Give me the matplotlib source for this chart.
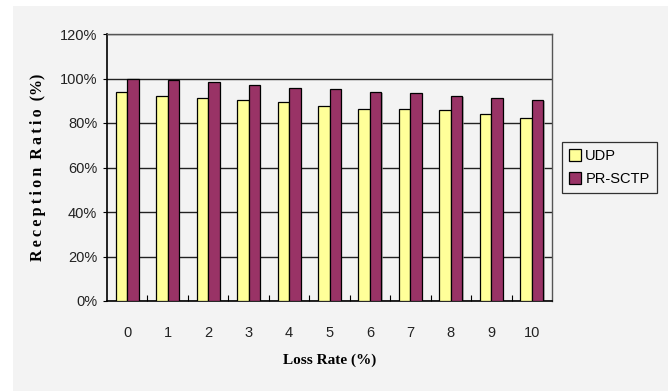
import numpy as np
import matplotlib.pyplot as plt
from matplotlib.patches import Rectangle
from matplotlib.ticker import FuncFormatter

loss_rate = ["0", "1", "2", "3", "4", "5", "6", "7", "8", "9", "10"]
udp = [94.1, 92.3, 91.1, 90.5, 89.3, 87.5, 86.3, 86.3, 85.7, 83.9, 82.1]
pr_sctp = [100.0, 99.5, 98.4, 97.2, 95.9, 95.3, 94.1, 93.5, 92.3, 91.1, 90.5]

bg = "#f3f3f3"
fig = plt.figure(figsize=(6.68, 3.91), dpi=100, facecolor="white")
fig.patches.append(Rectangle((13 / 668, 0), 1, 1 - 6 / 391, transform=fig.transFigure,
                             facecolor=bg, edgecolor="none", zorder=-10))

ax = fig.add_axes([107 / 668, 90 / 391, 445 / 668, 267 / 391])
ax.set_facecolor(bg)

x = np.arange(len(loss_rate))
w = 0.285

# drop shadows behind each bar
for off, vals in ((-w / 2, udp), (w / 2, pr_sctp)):
    ax.bar(x + off + 0.03, np.array(vals) - 0.6, w, bottom=0, color="#9a9a9a",
           edgecolor="none", zorder=2, alpha=0.7)

ax.bar(x - w / 2, udp, w, color="#ffff99", edgecolor="black", linewidth=0.9,
       label="UDP", zorder=3)
ax.bar(x + w / 2, pr_sctp, w, color="#993366", edgecolor="black", linewidth=0.9,
       label="PR-SCTP", zorder=3)

ax.set_xlim(-0.5, len(loss_rate) - 0.5)
ax.set_ylim(0, 120)
ax.set_yticks(np.arange(0, 121, 20))
ax.yaxis.set_major_formatter(FuncFormatter(lambda v, p: f"{int(v)}%"))
ax.set_xticks(x)
ax.set_xticklabels(loss_rate)
ax.set_xticks(np.arange(0.5, len(loss_rate) - 0.5, 1), minor=True)
ax.tick_params(axis="x", which="major", length=0, pad=18, labelsize=10.5, labelcolor="#222222")
ax.tick_params(axis="x", which="minor", direction="in", length=4, width=0.8)
ax.tick_params(axis="y", direction="out", length=3, width=0.8, labelsize=10.5,
               labelcolor="#222222", pad=4)
for lab in ax.get_xticklabels() + ax.get_yticklabels():
    lab.set_fontfamily("Liberation Sans")

ax.grid(axis="y", color="#222222", linewidth=1.0, zorder=0)
ax.set_axisbelow(True)
for side in ("left", "bottom"):
    ax.spines[side].set_color("black")
    ax.spines[side].set_linewidth(1.2)
for side in ("top", "right"):
    ax.spines[side].set_color("#555555")
    ax.spines[side].set_linewidth(1.0)

ax.set_xlabel("Loss Rate (%)", family="Liberation Serif", fontweight="bold",
              fontsize=11, labelpad=10)
ylab = "\u2009".join("Reception") + "  " + "\u2009".join("Ratio") + "  (%)"
ax.set_ylabel(ylab, family="Liberation Serif", fontweight="bold", fontsize=11.5, labelpad=10)

leg = ax.legend(loc="center left", bbox_to_anchor=(1 + 10 / 445, 0.5),
                frameon=True, fancybox=False, edgecolor="black", facecolor=bg,
                prop={"family": "Liberation Sans", "size": 10.5},
                handlelength=0.8, handleheight=0.9, handletextpad=0.3,
                labelspacing=0.6, borderpad=0.5, borderaxespad=0)
leg.get_frame().set_linewidth(0.9)

fig.savefig("out.png", dpi=100, facecolor="white")
